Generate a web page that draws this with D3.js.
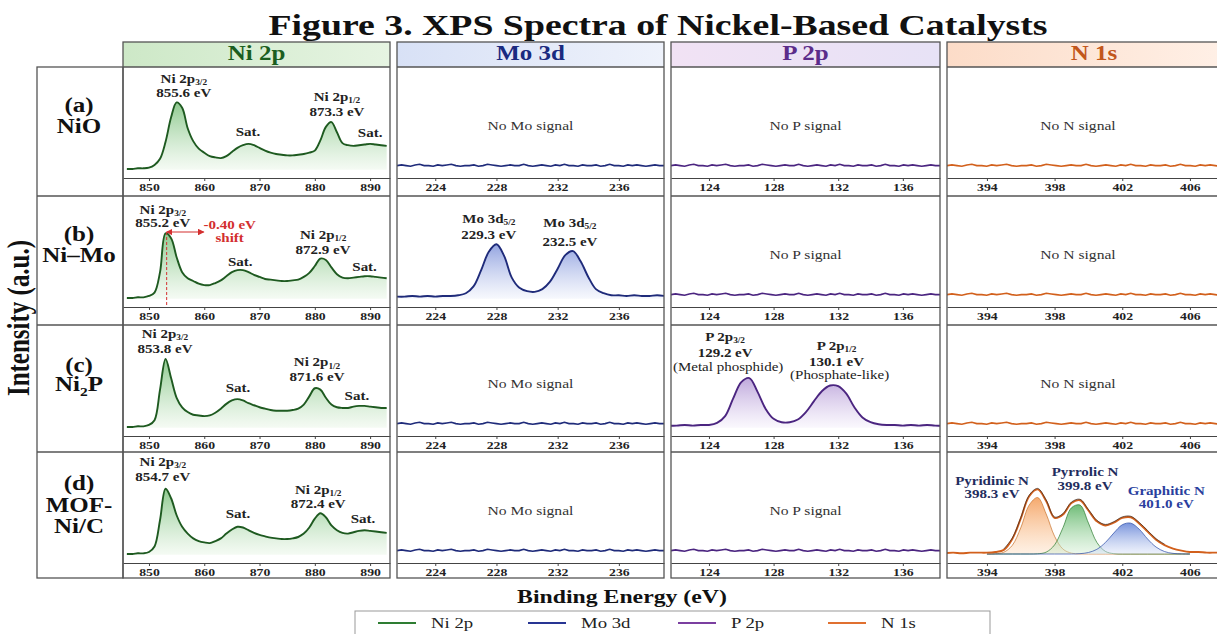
<!DOCTYPE html>
<html><head><meta charset="utf-8">
<script src="https://cdn.jsdelivr.net/npm/d3@7"></script>
<style>
body{margin:0;background:#fff}
svg{display:block}
text{font-family:"Liberation Serif","Times New Roman",serif}
</style></head>
<body><svg id="c" width="1217" height="634"></svg>
<script>
// ---------------- DATA ----------------
const columnNames = ["Ni 2p", "Mo 3d", "P 2p", "N 1s"];
const rowLetters = ["(a)", "(b)", "(c)", "(d)"];
const sampleNames = [[["NiO"]], [["Ni\u2013Mo"]], [["Ni"], ["2", "sub"], ["P"]], [["MOF-"]], [["Ni/C"]]];
const emptyTexts = ["", "No Mo signal", "No P signal", "No N signal"];
const legendNames = ["Ni 2p", "Mo 3d", "P 2p", "N 1s"];

const niTicks = [850, 860, 870, 880, 890];
const niMinor = [855, 865, 875, 885];
const moTicks = [224, 228, 232, 236];
const moMinor = [222, 226, 230, 234, 238];
const pTicks = [124, 128, 132, 136];
const pMinor = [122, 126, 130, 134, 138];
const nTicks = [394, 398, 402, 406];
const nMinor = [392, 396, 400, 404];

const niDomain = [845.3, 893.6];
const moDomain = [221.5, 238.95];
const pDomain = [121.65, 138.3];
const nDomain = [391.64, 408.96];

const niEnergy = [846,847,848,849,850,851,852,853,854,855,856,857,858,859,860,861,862,863,864,865,866,867,868,869,870,871,872,873,874,875,876,877,878,879,880,881,882,883,884,885,886,887,888,889,890,891,892,893];
const niNiO = [0.00,0.00,0.01,0.01,0.02,0.06,0.15,0.40,0.76,0.98,
  0.90,0.60,0.41,0.30,0.24,0.19,0.17,0.16,0.19,0.25,
  0.31,0.35,0.37,0.35,0.31,0.27,0.24,0.22,0.21,0.20,
  0.20,0.21,0.22,0.24,0.27,0.42,0.62,0.69,0.54,0.38,
  0.35,0.34,0.35,0.36,0.37,0.36,0.35,0.34];
const niNiMo = [0.00,0.00,0.01,0.01,0.03,0.08,0.38,0.95,0.88,0.60,
  0.38,0.29,0.25,0.21,0.19,0.19,0.22,0.26,0.32,0.38,
  0.41,0.41,0.38,0.34,0.31,0.28,0.27,0.26,0.25,0.25,
  0.26,0.27,0.31,0.37,0.47,0.58,0.56,0.45,0.35,0.30,
  0.29,0.30,0.31,0.32,0.32,0.31,0.30,0.29];
const niNi2P = [0.00,0.00,0.01,0.01,0.03,0.10,0.55,1.00,0.72,0.43,
  0.29,0.22,0.18,0.17,0.16,0.17,0.21,0.27,0.34,0.39,
  0.41,0.39,0.35,0.32,0.29,0.27,0.25,0.24,0.24,0.24,
  0.25,0.27,0.33,0.45,0.57,0.55,0.43,0.33,0.29,0.28,
  0.28,0.30,0.31,0.31,0.30,0.29,0.28,0.28];
const niMOF = [0.00,0.00,0.01,0.01,0.03,0.11,0.50,0.96,0.82,0.57,
  0.40,0.30,0.23,0.19,0.17,0.16,0.19,0.23,0.30,0.36,
  0.40,0.39,0.35,0.31,0.28,0.26,0.24,0.23,0.22,0.22,
  0.23,0.25,0.30,0.39,0.52,0.60,0.54,0.42,0.35,0.31,
  0.30,0.32,0.34,0.35,0.34,0.33,0.32,0.31];

const moEnergy = [221.5,222,222.5,223,223.5,224,224.5,225,225.5,226,226.5,227,227.5,228,228.5,229,229.5,230,230.5,231,231.5,232,232.5,233,233.5,234,234.5,235,235.5,236,236.5,237,237.5,238,238.5,239];
const moNiMo = [0.02,0.02,0.03,0.02,0.03,0.02,0.03,0.03,0.04,0.07,
  0.17,0.41,0.68,0.79,0.62,0.30,0.15,0.10,0.09,0.13,
  0.24,0.43,0.63,0.69,0.54,0.31,0.13,0.07,0.04,0.04,
  0.03,0.04,0.03,0.03,0.04,0.03];

const pEnergy = [121.5,122,122.5,123,123.5,124,124.5,125,125.5,126,126.5,127,127.5,128,128.5,129,129.5,130,130.5,131,131.5,132,132.5,133,133.5,134,134.5,135,135.5,136,136.5,137,137.5,138,138.5];
const pNi2P = [0.02,0.02,0.03,0.02,0.03,0.03,0.06,0.16,0.42,0.66,
  0.72,0.52,0.27,0.12,0.07,0.07,0.11,0.22,0.38,0.53,
  0.61,0.60,0.49,0.29,0.14,0.07,0.04,0.03,0.03,0.02,
  0.03,0.02,0.03,0.02,0.02];

const nEnergy = [391.5,392,392.5,393,393.5,394,394.5,395,395.5,396,396.5,397,397.5,398,398.5,399,399.5,400,400.5,401,401.5,402,402.5,403,403.5,404,404.5,405,405.5,406,406.5,407,407.5,408];
const nMOF = [0.01,0.02,0.01,0.02,0.02,0.02,0.03,0.06,0.22,0.52,
  0.85,0.95,0.78,0.53,0.58,0.75,0.79,0.64,0.48,0.42,
  0.46,0.53,0.54,0.45,0.33,0.21,0.13,0.08,0.05,0.03,
  0.03,0.02,0.02,0.02];
const nCompEnergy = [394,394.5,395,395.5,396,396.5,397,397.5,398,398.5,399,399.5,400,400.5,401,401.5,402,402.5,403,403.5,404,404.5,405,405.5,406];
const nPyridinic = [0,0.003,0.026,0.127,0.385,0.72,0.83,0.59,0.26,0.071,0.012,0.001,0,0,0,0,0,0,0,0,0,0,0,0,0];
const nPyrrolic = [0,0,0,0,0,0,0.003,0.027,0.134,0.39,0.68,0.72,0.455,0.17,0.039,0.005,0,0,0,0,0,0,0,0,0];
const nGraphitic = [0,0,0,0,0,0,0,0,0,0,0,0.005,0.022,0.069,0.168,0.308,0.43,0.454,0.365,0.22,0.102,0.036,0.009,0.002,0];

// baseline trace of panels without signal
const flatTrace = [0.05,0.06,0.05,0.04,0.06,0.07,0.05,0.05,0.04,0.06,
  0.05,0.06,0.07,0.05,0.04,0.05,0.05,0.06,0.04,0.05,
  0.07,0.06,0.05,0.04,0.05,0.06,0.05,0.05,0.07,0.05,
  0.04,0.05,0.06,0.05,0.04,0.06,0.05,0.07,0.05,0.05,
  0.04,0.06,0.05,0.05,0.06,0.04,0.05,0.07,0.05,0.05,
  0.04,0.06,0.05,0.06,0.05,0.04,0.05,0.06,0.05,0.05];

// annotations (energy, intensity)
const niMainName = ["3/2","3/2","3/2","3/2"];
const niMainBE = ["855.6 eV", "855.2 eV", "853.8 eV", "854.7 eV"];
const niMainAt = [[856.3, 1.27, 1.06], [852.5, 1.24, 1.04], [852.9, 1.31, 1.09], [852.5, 1.30, 1.07]];
const niSecBE = ["873.3 eV", "872.9 eV", "871.6 eV", "872.4 eV"];
const niSecAt = [[884.0, 1.0, 0.78], [881.5, 0.87, 0.65], [880.4, 0.89, 0.68], [880.6, 0.88, 0.67]];
const niSatAt = [[[867.9, 0.485], [890.0, 0.47]], [[866.5, 0.47], [889.0, 0.40]], [[866.1, 0.51], [887.6, 0.40]], [[866.1, 0.53], [888.7, 0.46]]];
const shiftLabel = ["-0.40 eV", "shift"];
const shiftAt = [853.2, 859.9, 0.97, 1.01, 0.82, 864.6];
const moLabels = [["229.3 eV", 227.5, 1.11, 0.87], ["232.5 eV", 232.8, 1.05, 0.76]];
const pLabels = [["3/2", "129.2 eV", "(Metal phosphide)", 125.0, 1.26, 1.03, 0.82], ["1/2", "130.1 eV", "(Phosphate-like)", 131.9, 1.13, 0.90, 0.71]];
const nLabels = [["Pyridinic N", "398.3 eV", 394.3, 1.01, 0.82], ["Pyrrolic N", "399.8 eV", 399.8, 1.15, 0.94], ["Graphitic N", "401.0 eV", 404.6, 0.87, 0.68]];

// ---------------- LAYOUT / STYLE ----------------
const SX = 1.25;
const colX = [[123, 390], [397, 664], [671, 940], [947, 1240]];
const rowTops = [67, 196, 325, 452];
const rowBottom = 578;
const plotH = 111;
const headerTop = 42;
const lineCol = ["#1e5a20", "#1f2b7a", "#4b2580", "#d2601c"];
const headCol = ["#1b5e20", "#1a2a80", "#5b2c8a", "#c2561b"];
const headBg = [["#cde8c7", "#e6f4e2"], ["#d8e1f6", "#eef2fb"], ["#f1e2f4", "#e7e2f6"], ["#fcdcc8", "#fff1e8"]];
const fillTop = ["#69b86a", "#6f86d6", "#a98bd0", "#f0a060"];
const fillBot = ["#eaf6e8", "#eef1fb", "#f5f0fb", "#fff3ea"];
const legendCol = ["#2e7d32", "#283593", "#7b3fa0", "#e07030"];

const svg = d3.select("#c");
const defs = svg.append("defs");

function txt(parent, x, y, segs, o = {}) {
  const size = o.size || 12;
  const g = parent.append("g").attr("transform", `translate(${x},${y}) scale(${o.sx || SX},1)` + (o.rot ? ` rotate(${o.rot})` : ""));
  const t = g.append("text").attr("text-anchor", o.anchor || "middle")
    .attr("font-size", size).attr("font-weight", o.weight || "bold").attr("fill", o.fill || "#222");
  if (typeof segs === "string") segs = [[segs]];
  let shifted = 0;
  const drop = o.subDrop !== undefined ? o.subDrop : 0.18;
  segs.forEach(s => {
    const ts = t.append("tspan").text(s[0]);
    if (s[1] === "sub") { ts.attr("font-size", size * 0.62).attr("dy", size * drop - shifted); shifted = size * drop; }
    else if (shifted) { ts.attr("dy", -shifted); shifted = 0; }
  });
  return t;
}

// gradients
colX.forEach((cx, c) => {
  const hg = defs.append("linearGradient").attr("id", "hd" + c).attr("x1", 0).attr("x2", 1).attr("y1", 0).attr("y2", 0);
  hg.append("stop").attr("offset", 0).attr("stop-color", headBg[c][0]);
  hg.append("stop").attr("offset", 1).attr("stop-color", headBg[c][1]);
  const fg = defs.append("linearGradient").attr("id", "fl" + c).attr("x1", 0).attr("x2", 0).attr("y1", 0).attr("y2", 1);
  fg.append("stop").attr("offset", 0).attr("stop-color", fillTop[c]).attr("stop-opacity", 0.75);
  fg.append("stop").attr("offset", 1).attr("stop-color", fillBot[c]).attr("stop-opacity", 0.5);
});
const compColors = [["#f28c3c", "#fde0c4", "#c9742e"], ["#3fa64a", "#d4efd4", "#2e7d32"], ["#4a6fd0", "#dbe3f8", "#2f4fa8"]];
compColors.forEach((cc, i) => {
  const g = defs.append("linearGradient").attr("id", "cp" + i).attr("x1", 0).attr("x2", 0).attr("y1", 0).attr("y2", 1);
  g.append("stop").attr("offset", 0).attr("stop-color", cc[0]).attr("stop-opacity", 0.75);
  g.append("stop").attr("offset", 1).attr("stop-color", cc[1]).attr("stop-opacity", 0.45);
});
defs.append("marker").attr("id", "arr").attr("viewBox", "0 0 8 8").attr("refX", 7).attr("refY", 4)
  .attr("markerWidth", 6).attr("markerHeight", 6).attr("orient", "auto-start-reverse")
  .append("path").attr("d", "M0,0 L8,4 L0,8 z").attr("fill", "#d32f2f");

// title
txt(svg, 658, 35, "Figure 3. XPS Spectra of Nickel-Based Catalysts", { size: 30, fill: "#111", sx: 1.26 });

// x scales
const xScales = [niDomain, moDomain, pDomain, nDomain].map((d, c) => d3.scaleLinear().domain(d).range(colX[c]));
const tickSets = [[niTicks, niMinor], [moTicks, moMinor], [pTicks, pMinor], [nTicks, nMinor]];
const yScales = rowTops.map(t => { const ax = t + plotH; return d3.scaleLinear().domain([0, 1]).range([ax - 9, ax - 77]); });

const spectra = [
  [{ e: niEnergy, v: niNiO }, null, null, null],
  [{ e: niEnergy, v: niNiMo }, { e: moEnergy, v: moNiMo }, null, null],
  [{ e: niEnergy, v: niNi2P }, null, { e: pEnergy, v: pNi2P }, null],
  [{ e: niEnergy, v: niMOF }, null, null, { e: nEnergy, v: nMOF }]
];

// label column
const lab = svg.append("g");
lab.append("rect").attr("x", 37).attr("y", rowTops[0]).attr("width", 123 - 37).attr("height", rowBottom - rowTops[0])
  .attr("fill", "#fff").attr("stroke", "#555").attr("stroke-width", 1.3);
rowTops.slice(1).forEach(t => lab.append("line").attr("x1", 37).attr("x2", 123).attr("y1", t).attr("y2", t).attr("stroke", "#555").attr("stroke-width", 1.3));
const lx = 79;
const labOpt = { size: 20, fill: "#111", subDrop: 0.25 };
txt(lab, lx, rowTops[0] + 45, rowLetters[0], labOpt);
txt(lab, lx, rowTops[0] + 66, sampleNames[0], labOpt);
txt(lab, lx, rowTops[1] + 45, rowLetters[1], labOpt);
txt(lab, lx, rowTops[1] + 66, sampleNames[1], labOpt);
txt(lab, lx, rowTops[2] + 47, rowLetters[2], labOpt);
txt(lab, lx, rowTops[2] + 66, sampleNames[2], labOpt);
txt(lab, lx, rowTops[3] + 38, rowLetters[3], labOpt);
txt(lab, lx, rowTops[3] + 60, sampleNames[3], labOpt);
txt(lab, lx, rowTops[3] + 81, sampleNames[4], labOpt);

// y label
txt(svg, 29, 318, "Intensity (a.u.)", { size: 25, fill: "#111", rot: -90 });

// columns
colX.forEach((cx, c) => {
  const g = svg.append("g");
  const x = xScales[c];
  g.append("rect").attr("x", cx[0]).attr("y", headerTop).attr("width", cx[1] - cx[0]).attr("height", rowTops[0] - headerTop).attr("fill", `url(#hd${c})`);
  const hc = c === 3 ? (cx[0] + 1217) / 2 + 12 : (cx[0] + cx[1]) / 2;
  txt(g, hc, 60, columnNames[c], { size: 20, fill: headCol[c] });

  rowTops.forEach((rt, r) => {
    const y = yScales[r];
    const ax = rt + plotH;
    const cid = `cl${c}_${r}`;
    defs.append("clipPath").attr("id", cid).append("rect").attr("x", cx[0]).attr("y", rt).attr("width", cx[1] - cx[0]).attr("height", plotH);
    const p = g.append("g").attr("clip-path", `url(#${cid})`);
    const s = spectra[r][c];
    if (s) {
      const pts = s.e.map((e, i) => [e, s.v[i]]);
      if (c === 3) {
        [nPyridinic, nPyrrolic, nGraphitic].forEach((comp, k) => {
          const cp = nCompEnergy.map((e, i) => [e, comp[i]]);
          p.append("path").attr("fill", `url(#cp${k})`)
            .attr("d", d3.area().x(d => x(d[0])).y0(y(0)).y1(d => y(d[1])).curve(d3.curveCatmullRom)(cp));
          p.append("path").attr("fill", "none").attr("stroke", compColors[k][2]).attr("stroke-width", 0.9).attr("stroke-opacity", 0.8)
            .attr("d", d3.line().x(d => x(d[0])).y(d => y(d[1])).curve(d3.curveCatmullRom)(cp));
        });
        p.append("path").attr("fill", "none").attr("stroke", lineCol[c]).attr("stroke-width", 1.9)
          .attr("d", d3.line().x(d => x(d[0])).y(d => y(d[1])).curve(d3.curveCatmullRom)(pts));
        const env = pts.filter(d => d[0] >= 395 && d[0] <= 404.5);
        p.append("path").attr("fill", "none").attr("stroke", "#3a2a22").attr("stroke-width", 0.9).attr("stroke-opacity", 0.8)
          .attr("d", d3.line().x(d => x(d[0])).y(d => y(d[1]) - 1).curve(d3.curveCatmullRom)(env));
      } else {
        p.append("path").attr("fill", `url(#fl${c})`)
          .attr("d", d3.area().x(d => x(d[0])).y0(y(-0.01)).y1(d => y(d[1])).curve(d3.curveCatmullRom)(pts));
        p.append("path").attr("fill", "none").attr("stroke", lineCol[c]).attr("stroke-width", 1.9).attr("stroke-linejoin", "round")
          .attr("d", d3.line().x(d => x(d[0])).y(d => y(d[1])).curve(d3.curveCatmullRom)(pts));
      }
    } else {
      const ix = d3.scaleLinear().domain([0, flatTrace.length - 1]).range(x.domain());
      const pts = flatTrace.map((v, i) => [ix(i), v]);
      p.append("path").attr("fill", "none").attr("stroke", lineCol[c]).attr("stroke-width", 1.6)
        .attr("d", d3.line().x(d => x(d[0])).y(d => y(d[1])).curve(d3.curveLinear)(pts));
      const tc = c === 3 ? (cx[0] + 1217) / 2 - 4 : (cx[0] + cx[1]) / 2;
      txt(g, tc, rt + 63, emptyTexts[c], { size: 12.5, weight: "normal", fill: "#333" });
    }
    const axG = g.append("g").attr("transform", `translate(0,${ax})`);
    axG.call(d3.axisBottom(x).tickValues(tickSets[c][1]).tickSize(2).tickSizeOuter(0).tickFormat(""));
    axG.call(d3.axisBottom(x).tickValues(tickSets[c][0]).tickSize(3).tickSizeOuter(0).tickPadding(2.5).tickFormat(d3.format("d")));
    axG.selectAll(".domain").attr("stroke", "#444").attr("stroke-width", 1.1);
    axG.selectAll(".tick line").attr("stroke", "#444");
    axG.selectAll(".tick text").attr("font-size", 11).attr("font-weight", "bold").attr("fill", "#222")
      .attr("font-family", "Liberation Serif, Times New Roman, serif").attr("transform", `scale(${SX},1)`);
    if (r > 0) g.append("line").attr("x1", cx[0]).attr("x2", cx[1]).attr("y1", rt).attr("y2", rt).attr("stroke", "#555").attr("stroke-width", 1.3);
  });
  g.append("line").attr("x1", cx[0]).attr("x2", cx[1]).attr("y1", rowTops[0]).attr("y2", rowTops[0]).attr("stroke", "#555").attr("stroke-width", 1.3);
  g.append("rect").attr("x", cx[0]).attr("y", headerTop).attr("width", cx[1] - cx[0]).attr("height", rowBottom - headerTop)
    .attr("fill", "none").attr("stroke", "#555").attr("stroke-width", 1.3);
});

// ---------- annotations ----------
const ann = svg.append("g");
const xN = xScales[0];
rowTops.forEach((rt, r) => {
  const y = yScales[r];
  const m = niMainAt[r];
  txt(ann, xN(m[0]), y(m[1]), [["Ni 2p"], [niMainName[r], "sub"]], { size: 12 });
  txt(ann, xN(m[0]), y(m[2]), niMainBE[r], { size: 12 });
  const s = niSecAt[r];
  txt(ann, xN(s[0]), y(s[1]), [["Ni 2p"], ["1/2", "sub"]], { size: 12 });
  txt(ann, xN(s[0]), y(s[2]), niSecBE[r], { size: 12 });
  niSatAt[r].forEach(sa => txt(ann, xN(sa[0]), y(sa[1]), "Sat.", { size: 12 }));
});
{
  const y = yScales[1];
  const ax = rowTops[1] + plotH;
  ann.append("line").attr("x1", xN(shiftAt[0])).attr("x2", xN(shiftAt[0])).attr("y1", y(shiftAt[2])).attr("y2", ax)
    .attr("stroke", "#d32f2f").attr("stroke-width", 1).attr("stroke-dasharray", "3,2");
  ann.append("line").attr("x1", xN(shiftAt[0])).attr("x2", xN(shiftAt[1])).attr("y1", y(shiftAt[2])).attr("y2", y(shiftAt[2]))
    .attr("stroke", "#d32f2f").attr("stroke-width", 1.1).attr("marker-end", "url(#arr)").attr("marker-start", "url(#arr)");
  txt(ann, xN(shiftAt[5]), y(shiftAt[3]), shiftLabel[0], { size: 12, fill: "#d32f2f" });
  txt(ann, xN(shiftAt[5]), y(shiftAt[4]), shiftLabel[1], { size: 12, fill: "#d32f2f" });
}
moLabels.forEach(m => {
  const y = yScales[1], x = xScales[1];
  txt(ann, x(m[1]), y(m[2]), [["Mo 3d"], ["5/2", "sub"]], { size: 12 });
  txt(ann, x(m[1]), y(m[3]), m[0], { size: 12 });
});
pLabels.forEach(m => {
  const y = yScales[2], x = xScales[2];
  txt(ann, x(m[3]), y(m[4]), [["P 2p"], [m[0], "sub"]], { size: 12 });
  txt(ann, x(m[3]), y(m[5]), m[1], { size: 12 });
  txt(ann, x(m[3]) + 3, y(m[6]), m[2], { size: 12, weight: "normal" });
});
nLabels.forEach((m, i) => {
  const y = yScales[3], x = xScales[3];
  const col = i === 2 ? "#2b3f9e" : "#1f2d5e";
  txt(ann, x(m[2]), y(m[3]), m[0], { size: 12, fill: col });
  txt(ann, x(m[2]), y(m[4]), m[1], { size: 12, fill: col });
});

// x title
txt(svg, 622, 603, "Binding Energy (eV)", { size: 19, fill: "#111" });

// legend
const lg = svg.append("g");
lg.append("rect").attr("x", 355).attr("y", 611).attr("width", 990 - 355).attr("height", 40).attr("fill", "#fff").attr("stroke", "#999").attr("stroke-width", 1);
const legX = d3.scalePoint().domain(legendNames).range([378, 828]);
legendNames.forEach((n, i) => {
  const x0 = legX(n);
  lg.append("line").attr("x1", x0).attr("x2", x0 + 38).attr("y1", 623).attr("y2", 623).attr("stroke", legendCol[i]).attr("stroke-width", 2);
  txt(lg, x0 + 53, 628, n, { size: 15, weight: "normal", fill: "#222", anchor: "start" });
});
</script>
</body></html>
